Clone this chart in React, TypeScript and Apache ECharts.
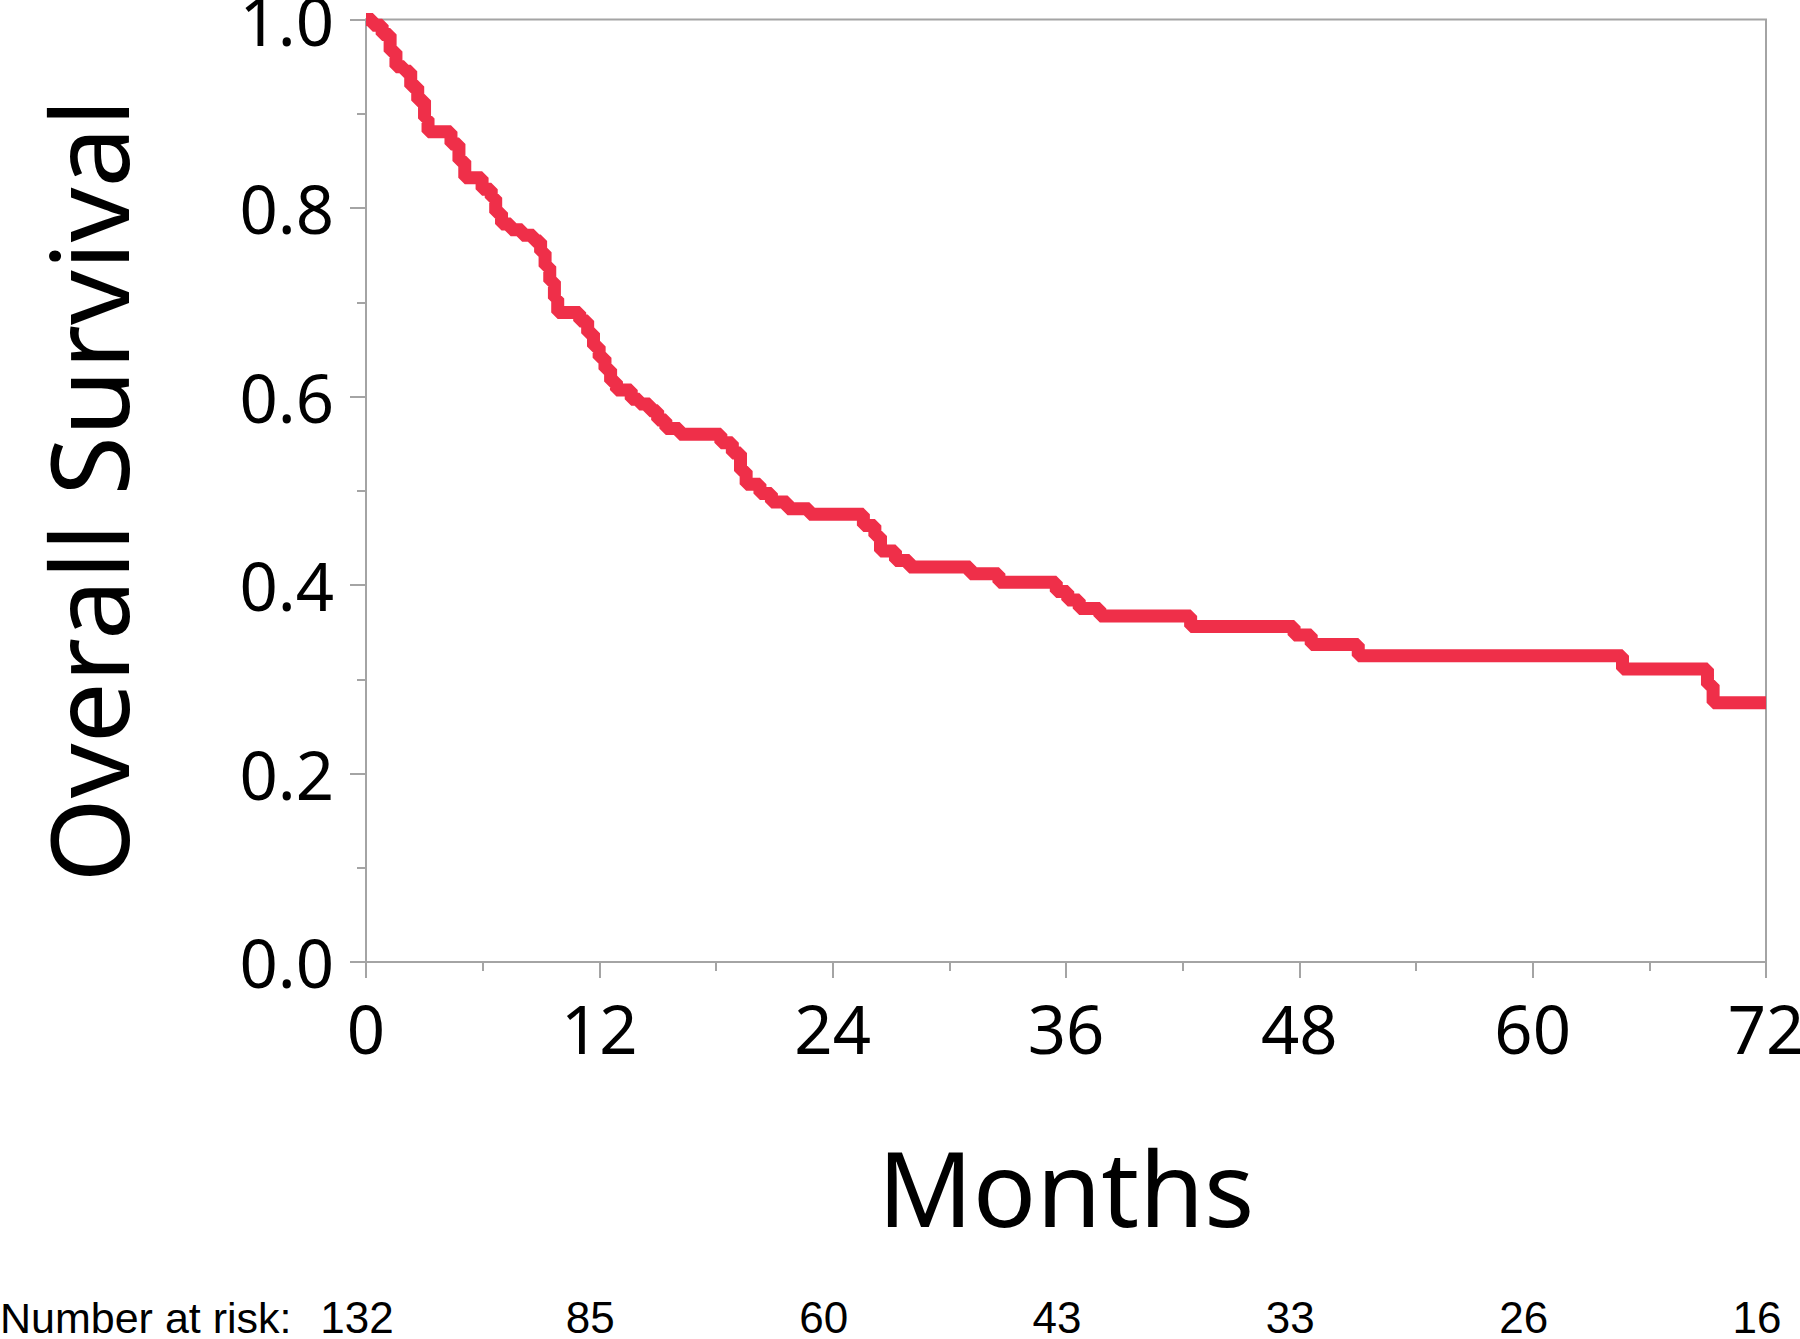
import React, { useEffect, useRef } from "react";
import * as echarts from "echarts";

const months: number[] = [
  0, 0.35, 0.83, 1.24, 1.54, 1.95, 2.3, 2.66, 3.01, 3.19, 4.37, 4.78, 5.08, 5.97, 6.44, 6.67, 6.97, 7.44, 8.03, 8.62,
  8.98, 9.21, 9.45, 9.69, 9.86, 10.99, 11.4, 11.7, 11.99, 12.29, 12.58, 12.88, 13.64, 14.06, 14.59, 15.0, 15.42,
  16.13, 18.25, 18.84, 19.26, 19.55, 20.26, 20.85, 21.68, 22.8, 25.58, 26.17, 26.46, 27.23, 27.94, 31.07, 32.55,
  35.5, 36.09, 36.68, 37.74, 42.41, 47.73, 48.61, 51.03, 64.62, 68.99, 69.28, 72,
];
const survival: number[] = [
  1.0, 0.994, 0.984, 0.966, 0.95, 0.945, 0.929, 0.914, 0.895, 0.881, 0.868, 0.85, 0.832, 0.82, 0.811, 0.795, 0.783,
  0.777, 0.771, 0.765, 0.753, 0.738, 0.722, 0.704, 0.689, 0.68, 0.667, 0.653, 0.641, 0.629, 0.616, 0.607, 0.597,
  0.592, 0.585, 0.575, 0.566, 0.56, 0.551, 0.54, 0.521, 0.507, 0.497, 0.488, 0.481, 0.475, 0.463, 0.452, 0.436,
  0.426, 0.419, 0.412, 0.403, 0.393, 0.384, 0.375, 0.367, 0.356, 0.347, 0.337, 0.325, 0.311, 0.294, 0.275, 0.275,
];
const riskMonths: number[] = [0, 12, 24, 36, 48, 60, 72];
const atRisk: number[] = [132, 85, 60, 43, 33, 26, 16];

const AXIS_GRAY = "#a4a4a4";
const FONT = "'Noto Sans', 'Open Sans', sans-serif";
const RISK_FONT = "'Liberation Sans', Arial, sans-serif";

export default function App() {
  const ref = useRef<HTMLDivElement>(null);
  useEffect(() => {
    if (!ref.current) return;
    const chart = echarts.init(ref.current, null, { renderer: "svg" });
    const data = months.map((m, i) => [m, survival[i]]);
    chart.setOption({
      animation: false,
      backgroundColor: "#ffffff",
      grid: {
        left: 366,
        right: 34,
        top: 19.5,
        bottom: 377,
        containLabel: false,
        outerBoundsMode: "none",
        show: true,
        borderColor: AXIS_GRAY,
        borderWidth: 2,
        backgroundColor: "transparent",
      },
      xAxis: [
        {
          type: "value",
          min: 0,
          max: 72,
          interval: 12,
          name: "Months",
          nameLocation: "middle",
          nameGap: 172,
          nameTextStyle: { fontSize: 105, color: "#000", fontFamily: FONT },
          axisLine: { show: true, lineStyle: { color: AXIS_GRAY, width: 2 } },
          axisTick: { show: true, length: 16, lineStyle: { color: AXIS_GRAY, width: 2 } },
          minorTick: { show: true, splitNumber: 2, length: 9, lineStyle: { color: AXIS_GRAY, width: 2 } },
          splitLine: { show: false },
          axisLabel: { fontSize: 67, color: "#000", fontFamily: FONT, margin: 32 },
        },
        {
          type: "value",
          min: 0,
          max: 72,
          interval: 12,
          position: "bottom",
          offset: 333,
          axisLine: { show: false },
          axisTick: { show: false },
          splitLine: { show: false },
          axisLabel: {
            fontSize: 44,
            color: "#000",
            fontFamily: RISK_FONT,
            margin: 0,
            padding: [0, 18, 0, 0],
            formatter: (v: number) => {
              const idx = riskMonths.indexOf(v);
              return idx >= 0 ? String(atRisk[idx]) : "";
            },
          },
        },
      ],
      yAxis: {
        type: "value",
        min: 0,
        max: 1,
        interval: 0.2,
        name: "Overall Survival",
        nameLocation: "middle",
        nameGap: 225,
        nameTextStyle: { fontSize: 108, color: "#000", fontFamily: FONT },
        axisLine: { show: true, lineStyle: { color: AXIS_GRAY, width: 2 } },
        axisTick: { show: true, length: 16, lineStyle: { color: AXIS_GRAY, width: 2 } },
        minorTick: { show: true, splitNumber: 2, length: 9, lineStyle: { color: AXIS_GRAY, width: 2 } },
        splitLine: { show: false },
        axisLabel: {
          fontSize: 67,
          color: "#000",
          fontFamily: FONT,
          margin: 32,
          formatter: (v: number) => v.toFixed(1),
        },
      },
      graphic: [
        {
          type: "text",
          left: 0,
          top: 1296,
          style: {
            text: "Number at risk:",
            fontSize: 43,
            fill: "#000",
            fontFamily: RISK_FONT,
          },
        },
      ],
      series: [
        {
          type: "line",
          xAxisIndex: 0,
          step: "end",
          data,
          showSymbol: false,
          symbol: "none",
          lineStyle: { color: "#EF2F49", width: 13 },
          clip: false,
        },
      ],
    });
    return () => chart.dispose();
  }, []);
  return (
    <div
      ref={ref}
      style={{ position: "absolute", left: 0, top: 0, width: 1800, height: 1339, background: "#fff" }}
    />
  );
}
